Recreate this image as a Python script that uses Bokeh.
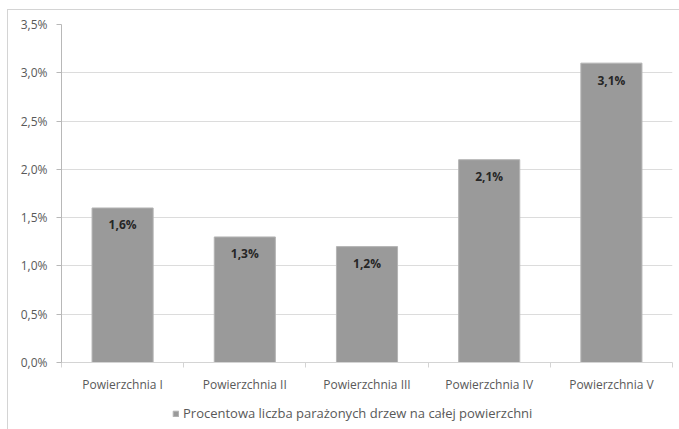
from bokeh.plotting import figure
from bokeh.layouts import column
from bokeh.models import ColumnDataSource, FixedTicker, Legend, LegendItem, Range1d
from bokeh.core.properties import value
from bokeh.embed import file_html
from bokeh.resources import INLINE

categories = ["Powierzchnia I", "Powierzchnia II", "Powierzchnia III", "Powierzchnia IV", "Powierzchnia V"]
values = [1.6, 1.3, 1.2, 2.1, 3.1]
y_ticks = [0.0, 0.5, 1.0, 1.5, 2.0, 2.5, 3.0, 3.5]
y_tick_labels = ["0,0%", "0,5%", "1,0%", "1,5%", "2,0%", "2,5%", "3,0%", "3,5%"]
series_name = "Procentowa liczba parażonych drzew na całej powierzchni"

FONT = "Open Sans"
BAR_FILL = "#9a9a9a"
BAR_LINE = "#b4b4b4"

xs = [i + 0.5 for i in range(len(categories))]
bounds = [float(i) for i in range(len(categories) + 1)]
labels = [f"{v:.1f}%".replace(".", ",") for v in values]

src = ColumnDataSource(dict(x=xs, top=values, label=labels))

p = figure(width=671, height=389, output_backend="svg", toolbar_location=None,
           x_range=Range1d(0, len(categories)), y_range=Range1d(0, 3.5),
           min_border_left=53, min_border_right=7, min_border_top=14, min_border_bottom=37)
p.outline_line_color = None
p.background_fill_color = "white"
p.border_fill_color = "white"

p.vbar(x="x", top="top", width=0.5, source=src, fill_color=BAR_FILL, line_color=BAR_LINE, line_width=1)

p.text(x="x", y="top", text="label", source=src, text_align="center", text_baseline="middle",
       y_offset=17, text_font=value(FONT), text_font_size="12px", text_font_style="bold",
       text_color="#262626")

# y axis
p.yaxis.ticker = FixedTicker(ticks=y_ticks)
p.yaxis.major_label_overrides = {t: l for t, l in zip(y_ticks, y_tick_labels)}
p.yaxis.major_label_text_font = FONT
p.yaxis.major_label_text_font_size = "12px"
p.yaxis.major_label_text_color = "#595959"
p.yaxis.axis_line_color = "#b8b8b8"
p.yaxis.major_tick_line_color = "#b8b8b8"
p.yaxis.major_tick_out = 5
p.yaxis.major_tick_in = 0
p.yaxis.minor_tick_line_color = None
p.yaxis.major_label_standoff = 9

# x axis: labels at centers, ticks at boundaries
p.xaxis.ticker = FixedTicker(ticks=xs, minor_ticks=bounds)
p.xaxis.major_label_overrides = {x: c for x, c in zip(xs, categories)}
p.xaxis.major_label_text_font = FONT
p.xaxis.major_label_text_font_size = "12px"
p.xaxis.major_label_text_color = "#595959"
p.xaxis.axis_line_color = "#d4d4d4"
p.xaxis.major_tick_line_color = None
p.xaxis.minor_tick_line_color = "#d4d4d4"
p.xaxis.minor_tick_out = 5
p.xaxis.minor_tick_in = 0
p.xaxis.major_label_standoff = 7

p.xgrid.grid_line_color = None
p.ygrid.ticker = FixedTicker(ticks=y_ticks)
p.ygrid.grid_line_color = "#dcdcdc"
p.ygrid.grid_line_width = 1

# legend strip below the chart (swatch comes from a hidden bar renderer)
p2 = figure(width=671, height=30, output_backend="svg", toolbar_location=None,
            x_range=Range1d(0, 1), y_range=Range1d(0, 1),
            x_axis_type=None, y_axis_type=None,
            min_border_left=0, min_border_right=0, min_border_top=0, min_border_bottom=0)
p2.outline_line_color = None
p2.grid.grid_line_color = None
p2.background_fill_color = "white"
p2.border_fill_color = "white"
r2 = p2.vbar(x=[0.5], top=[values[0]], width=0.5, fill_color=BAR_FILL, line_color=BAR_LINE)
r2.visible = False

legend = Legend(items=[LegendItem(label=series_name, renderers=[r2])],
                location=(111, 7), orientation="horizontal",
                border_line_color=None, background_fill_alpha=0,
                padding=0, margin=0, glyph_width=7, glyph_height=7,
                label_text_font=FONT, label_text_font_size="13px",
                label_text_color="#595959", label_standoff=4, label_height=14,
                inactive_fill_alpha=0)
p2.add_layout(legend, "center")

layout = column(p, p2, spacing=0)
layout.margin = (9, 0, 0, 7)
layout.styles = {"border-left": "1px solid #d4d4d4", "border-top": "1px solid #d4d4d4"}

open("out.html", "w").write(file_html(layout, INLINE))
